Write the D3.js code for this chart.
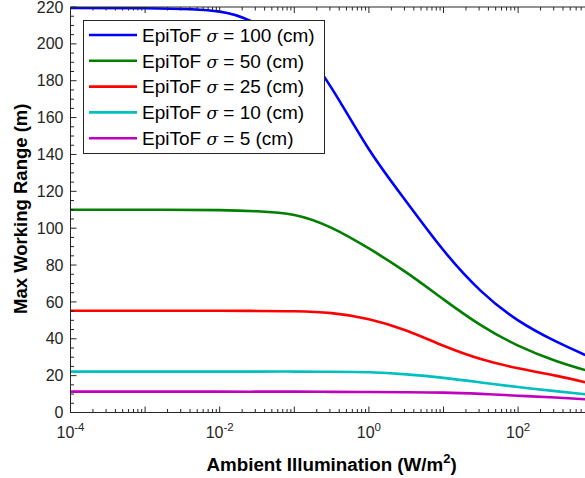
<!DOCTYPE html>
<meta charset="utf-8">
<style>
body { margin: 0; background: #fff; }
svg { font-family: "Liberation Sans", Arial, sans-serif; }
</style>
<body>
<script src="https://d3js.org/d3.v7.min.js"></script>
<script>

var width = 585,
    height = 478;

// log10 of the ambient illumination (W/m^2) at which values were read
var logE = [-4, -3, -2, -1.5, -1, -0.5, 0, 0.5, 1, 1.5, 2, 2.5, 2.9];

var sigma100 = [219.5, 219.3, 217.5, 211, 201, 176, 142.8, 114.5, 88, 66, 50, 38.7, 31.2];
var sigma50  = [110, 110, 109.8, 109.2, 107.2, 100.2, 89, 76, 61.4, 47.4, 36.3, 28.1, 23];
var sigma25  = [55.2, 55.2, 55.2, 55.1, 54.9, 53.9, 50.6, 44.5, 36.2, 29, 24, 20, 16.4];
var sigma10  = [22.2, 22.2, 22.2, 22.2, 22.2, 22.1, 21.8, 20.7, 18.8, 16.3, 13.8, 11.6, 9.9];
var sigma5   = [11.3, 11.3, 11.3, 11.3, 11.3, 11.2, 11.1, 11.0, 10.8, 10.1, 9.1, 8.1, 7.2];

var seriesNames = ["100", "50", "25", "10", "5"];
var seriesValues = [sigma100, sigma50, sigma25, sigma10, sigma5];
var colors = ["#0000ff", "#008000", "#ff0000", "#00bfbf", "#bf00bf"];

var yTicks = [0, 20, 40, 60, 80, 100, 120, 140, 160, 180, 200, 220];
var xTickExp = [-4, -2, 0, 2];

var pLeft = 70.5, pRight = 592.7, pTop = 7, pBottom = 412.5;
var axisColor = "#262626";

var x = d3.scaleLog().domain([1e-4, 1e3]).range([pLeft, pRight]);
var y = d3.scaleLinear().domain([0, 220]).range([pBottom, pTop]);

var svg = d3.select("body").append("svg")
    .attr("width", width)
    .attr("height", height);

svg.append("defs").append("clipPath").attr("id", "plot")
  .append("rect").attr("x", pLeft).attr("y", pTop)
  .attr("width", pRight - pLeft).attr("height", pBottom - pTop);

// curves
var line = d3.line()
  .x(function(d){ return x(Math.pow(10, d[0])); })
  .y(function(d){ return y(d[1]); })
  .curve(d3.curveNatural);

seriesValues.forEach(function(vals, i){
  svg.append("path")
    .datum(logE.map(function(l, j){ return [l, vals[j]]; }))
    .attr("clip-path", "url(#plot)")
    .attr("fill", "none")
    .attr("stroke", colors[i])
    .attr("stroke-width", 2.6)
    .attr("d", line);
});

// axes frame (left, bottom, top)
var ax = svg.append("g").attr("stroke", axisColor).attr("stroke-width", 1).attr("fill", "none");
ax.append("line").attr("x1", pLeft).attr("x2", pRight).attr("y1", pBottom).attr("y2", pBottom);
ax.append("line").attr("x1", pLeft).attr("x2", pRight).attr("y1", pTop).attr("y2", pTop);
ax.append("line").attr("x1", pLeft).attr("x2", pLeft).attr("y1", pTop).attr("y2", pBottom);

// y ticks
d3.range(0, 221, 5).forEach(function(v){
  var len = v % 20 === 0 ? 6 : 3.5;
  ax.append("line").attr("x1", pLeft).attr("x2", pLeft + len)
    .attr("y1", y(v)).attr("y2", y(v));
});

// x ticks (bottom and top)
var xt = [];
for (var e = -4; e < 3; e++) {
  for (var m = 1; m < 10; m++) xt.push({v: m * Math.pow(10, e), major: m === 1});
}
xt.push({v: 1e3, major: true});
xt.forEach(function(t){
  var len = t.major ? 6 : 3.5;
  var px = x(t.v);
  ax.append("line").attr("x1", px).attr("x2", px).attr("y1", pBottom).attr("y2", pBottom - len);
  ax.append("line").attr("x1", px).attr("x2", px).attr("y1", pTop).attr("y2", pTop + len);
});

// y tick labels
svg.append("g").selectAll("text").data(yTicks).enter().append("text")
  .attr("x", pLeft - 7)
  .attr("y", function(d){ return y(d); })
  .attr("dy", "0.35em")
  .attr("text-anchor", "end")
  .attr("font-size", 16)
  .attr("fill", axisColor)
  .text(function(d){ return d; });

// x tick labels
var xl = svg.append("g").selectAll("text").data(xTickExp).enter().append("text")
  .attr("x", function(d){ return x(Math.pow(10, d)); })
  .attr("y", 438)
  .attr("text-anchor", "middle")
  .attr("font-size", 16)
  .attr("fill", axisColor);
xl.append("tspan").text("10");
xl.append("tspan").attr("dy", -7).attr("font-size", 11.5)
  .text(function(d){ return d < 0 ? "-" + (-d) : d; });

// axis titles
var xtitle = svg.append("text")
  .attr("x", (pLeft + pRight) / 2)
  .attr("y", 471)
  .attr("text-anchor", "middle")
  .attr("font-size", 18.8)
  .attr("font-weight", "bold")
  .attr("fill", "#000");
xtitle.append("tspan").text("Ambient Illumination (W/m");
xtitle.append("tspan").attr("dy", -8).attr("font-size", 13).text("2");
xtitle.append("tspan").attr("dy", 8).text(")");

svg.append("text")
  .attr("transform", "translate(26.5," + ((pTop + pBottom) / 2 - 1) + ") rotate(-90)")
  .attr("text-anchor", "middle")
  .attr("font-size", 18.5)
  .attr("font-weight", "bold")
  .attr("fill", "#000")
  .text("Max Working Range (m)");

// legend
var lg = svg.append("g");
lg.append("rect")
  .attr("x", 83.5).attr("y", 20.5)
  .attr("width", 241).attr("height", 133)
  .attr("fill", "#fff")
  .attr("stroke", axisColor)
  .attr("stroke-width", 1);

seriesNames.forEach(function(name, i){
  var ry = 35 + i * 25.8;
  lg.append("line")
    .attr("x1", 89).attr("x2", 137)
    .attr("y1", ry).attr("y2", ry)
    .attr("stroke", colors[i]).attr("stroke-width", 2.6);
  var t = lg.append("text")
    .attr("x", 142).attr("y", ry).attr("dy", "0.36em")
    .attr("font-size", 19)
    .attr("fill", "#000");
  t.append("tspan").text("EpiToF ");
  t.append("tspan").attr("font-style", "italic").attr("font-family", "'DejaVu Serif', serif").attr("font-size", 17).text("\u03c3");
  t.append("tspan").text(" = " + name + " (cm)");
});

</script>
